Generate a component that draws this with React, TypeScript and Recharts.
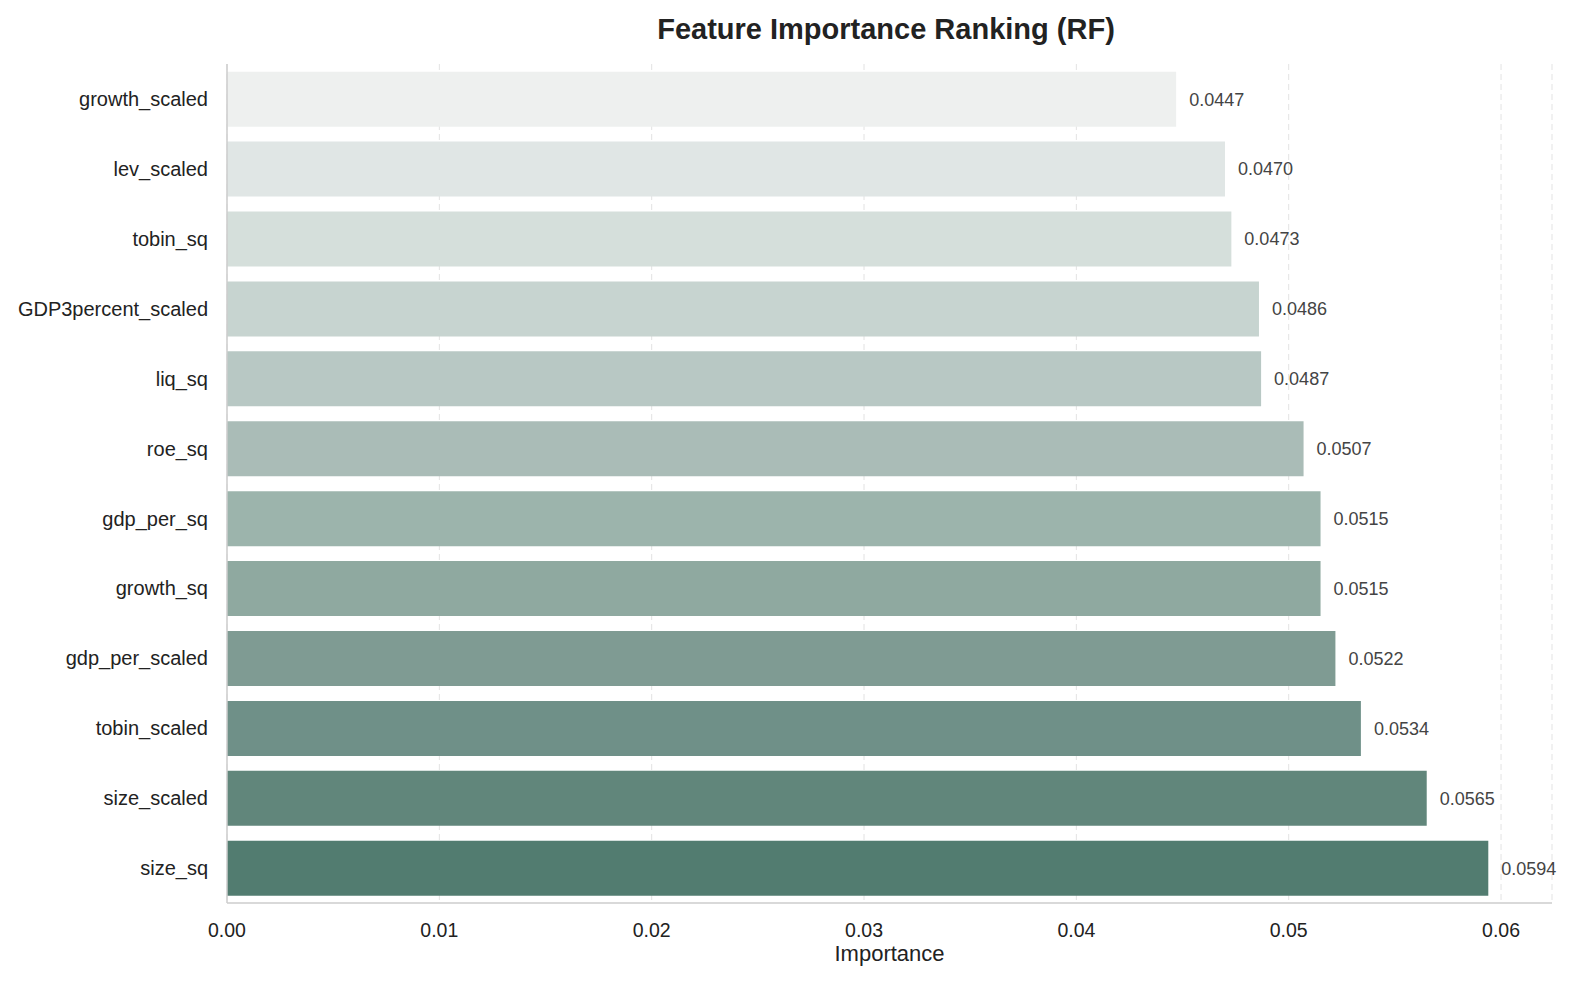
import { BarChart, Bar, XAxis, YAxis, CartesianGrid, Cell, LabelList } from 'recharts';

const features = [
  'growth_scaled',
  'lev_scaled',
  'tobin_sq',
  'GDP3percent_scaled',
  'liq_sq',
  'roe_sq',
  'gdp_per_sq',
  'growth_sq',
  'gdp_per_scaled',
  'tobin_scaled',
  'size_scaled',
  'size_sq',
];

const importance = [
  0.0447, 0.047, 0.0473, 0.0486, 0.0487, 0.0507, 0.0515, 0.0515, 0.0522, 0.0534, 0.0565, 0.0594,
];

const barColors = [
  '#eef0ef',
  '#e0e6e5',
  '#d5dfdb',
  '#c7d4d0',
  '#b8c8c4',
  '#aabcb7',
  '#9cb4ac',
  '#8fa9a0',
  '#7f9b93',
  '#6f9088',
  '#61867b',
  '#527c70',
];

const xTicks = [0, 0.01, 0.02, 0.03, 0.04, 0.05, 0.06];

const data = features.map((name, i) => ({ name, value: importance[i] }));

const font = '"Liberation Sans", Arial, Helvetica, sans-serif';

export default function App() {
  return (
    <div style={{ position: 'fixed', left: 0, top: 0, width: 1574, height: 983, background: '#fff', fontFamily: font, overflow: 'hidden' }}>
      <style>{'html, body { margin: 0; padding: 0; overflow: hidden; }'}</style>
      <div
        style={{
          position: 'absolute',
          left: 227,
          width: 1318,
          top: 11,
          textAlign: 'center',
          fontSize: 29,
          lineHeight: '36px',
          fontWeight: 700,
          color: '#222',
        }}
      >
        Feature Importance Ranking (RF)
      </div>
      <BarChart
        width={1574}
        height={983}
        data={data}
        layout="vertical"
        margin={{ top: 64, right: 22, left: 0, bottom: 0 }}
        barCategoryGap="11%"
      >
        <CartesianGrid horizontal={false} stroke="#e3e3e3" strokeDasharray="6 4" />
        <XAxis
          type="number"
          domain={[0, 0.0624]}
          ticks={xTicks}
          tickFormatter={(v: number) => v.toFixed(2)}
          tickLine={false}
          tickSize={0}
          tickMargin={20}
          height={80}
          axisLine={{ stroke: '#cccccc', strokeWidth: 1.5 }}
          tick={{ fill: '#222', fontSize: 19.5, fontFamily: font }}
          label={{ value: 'Importance', position: 'insideBottom', offset: 22, fill: '#222', fontSize: 22, fontFamily: font }}
        />
        <YAxis
          type="category"
          dataKey="name"
          width={227}
          tickLine={false}
          tickSize={0}
          tickMargin={19}
          axisLine={{ stroke: '#cccccc', strokeWidth: 1.5 }}
          tick={{ fill: '#222', fontSize: 20, fontFamily: font }}
          interval={0}
        />
        <Bar dataKey="value" isAnimationActive={false}>
          {data.map((d, i) => (
            <Cell key={d.name} fill={barColors[i]} />
          ))}
          <LabelList
            dataKey="value"
            position="right"
            offset={13}
            formatter={(v: any) => Number(v).toFixed(4)}
            style={{ fill: '#444', fontSize: 18, fontFamily: font }}
          />
        </Bar>
      </BarChart>
    </div>
  );
}
